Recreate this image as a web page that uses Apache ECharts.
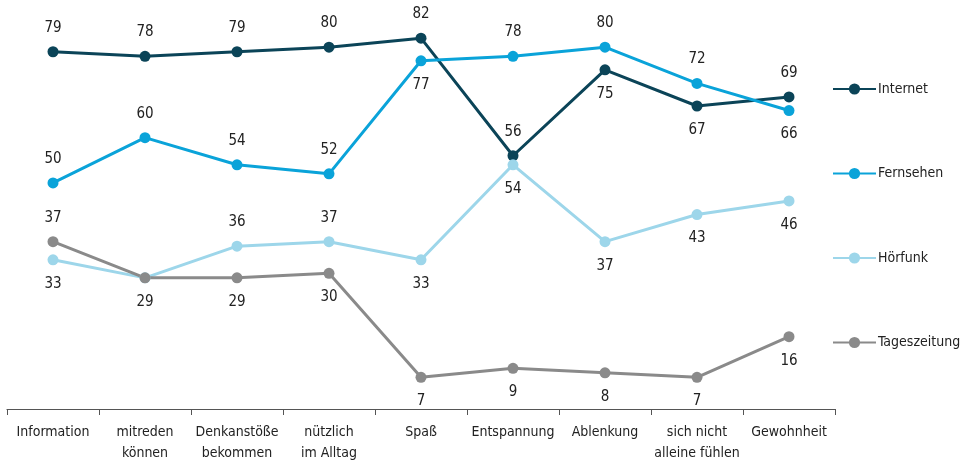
<!DOCTYPE html>
<html>
<head>
<meta charset="utf-8">
<script src="https://cdn.jsdelivr.net/npm/echarts@6/dist/echarts.min.js"></script>
<style>
  html, body { margin: 0; padding: 0; background: #fff; }
  #chart { width: 962px; height: 460px; }
</style>
</head>
<body>
<div id="chart"></div>
<script>
// Kategorien (x-Achse)
const categories = [
  'Information', 'mitreden\nkönnen', 'Denkanstöße\nbekommen', 'nützlich\nim Alltag',
  'Spaß', 'Entspannung', 'Ablenkung', 'sich nicht\nalleine fühlen', 'Gewohnheit'
]
// Werte je Medium
const internet = [79, 78, 79, 80, 82, 56, 75, 67, 69]
const fernsehen = [50, 60, 54, 52, 77, 78, 80, 72, 66]
const hoerfunk = [33, 29, 36, 37, 33, 54, 37, 43, 46]
const tageszeitung = [37, 29, 29, 30, 7, 9, 8, 7, 16]

// Beschriftung oben (t) / unten (b) / keine (-)
const internetLabels = ['t', 't', 't', 't', 't', 't', 'b', 'b', 't']
const fernsehenLabels = ['t', 't', 't', 't', 'b', 't', 't', 't', 'b']
const hoerfunkLabels = ['b', '-', 't', 't', 'b', 'b', 'b', 'b', 'b']
const tageszeitungLabels = ['t', 'b', 'b', 'b', 'b', 'b', 'b', 'b', 'b']

const FONT = '"DejaVu Sans Condensed", "Liberation Sans", Arial, sans-serif'

function buildData(values, positions) {
  return values.map((v, i) => {
    const p = positions[i]
    if (p === '-') return { value: v, label: { show: false }}
    return { value: v, label: { position: p === 't' ? 'top' : 'bottom' }}
  })
}

function makeSeries(name, color, values, positions) {
  return {
    name: name,
    type: 'line',
    data: buildData(values, positions),
    symbol: 'circle',
    symbolSize: 11,
    lineStyle: { color: color, width: 3 },
    itemStyle: { color: color },
    label: {
      show: true,
      distance: 11,
      color: '#222',
      fontSize: 15,
      fontFamily: FONT
    },
    animation: false
  }
}

const chart = echarts.init(document.getElementById('chart'))
chart.setOption({
  backgroundColor: '#fff',
  grid: {
    left: 7,
    right: 127,
    top: 2,
    bottom: 51,
    containLabel: false,
    outerBoundsMode: 'none'
  },
  legend: {
    orient: 'vertical',
    left: 827,
    top: 77,
    itemWidth: 43,
    itemHeight: 14,
    itemGap: 70.5,
    textStyle: { color: '#222', fontSize: 14, fontFamily: FONT, padding: [0, 0, 0, -3] },
    data: ['Internet', 'Fernsehen', 'Hörfunk', 'Tageszeitung']
  },
  xAxis: {
    type: 'category',
    data: categories,
    boundaryGap: true,
    axisLine: { lineStyle: { color: '#555', width: 1.2 }},
    axisTick: { show: true, length: 6, lineStyle: { color: '#555' }},
    axisLabel: {
      interval: 0,
      margin: 13,
      color: '#222',
      fontSize: 14,
      lineHeight: 21,
      fontFamily: FONT
    }
  },
  yAxis: {
    type: 'value',
    min: 0,
    max: 90,
    show: false
  },
  series: [
    makeSeries('Internet', '#0b4458', internet, internetLabels),
    makeSeries('Fernsehen', '#0aa3d9', fernsehen, fernsehenLabels),
    makeSeries('Hörfunk', '#9dd6ea', hoerfunk, hoerfunkLabels),
    makeSeries('Tageszeitung', '#8a8a8a', tageszeitung, tageszeitungLabels)
  ]
})
</script>
</body>
</html>
